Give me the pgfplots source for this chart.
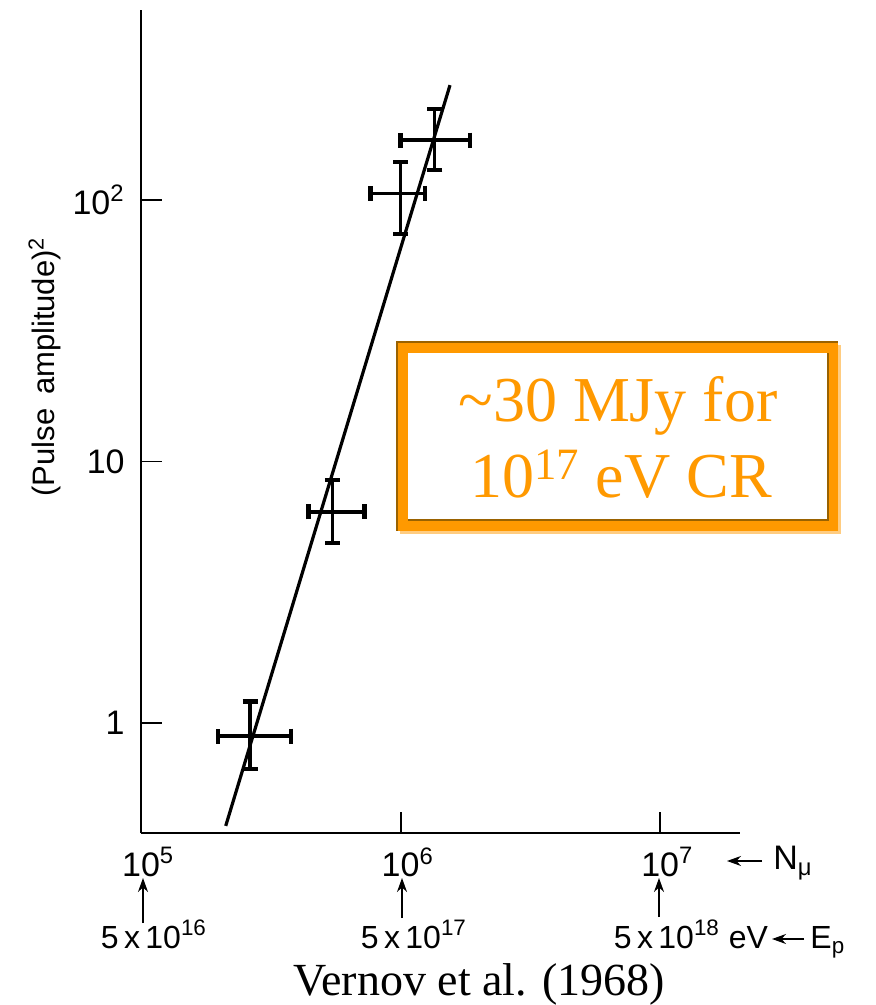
\documentclass[border=0pt]{standalone}
\usepackage{fontspec}
\setmainfont{Liberation Serif}
\setsansfont{Liberation Sans}
\usepackage{pgfplots}
\pgfplotsset{compat=1.18}
\usetikzlibrary{arrows.meta}
\definecolor{boxorange}{HTML}{FF9900}
\definecolor{boxbrown}{HTML}{9A6200}
\definecolor{boxshade}{HTML}{FFCC80}
\begin{document}
\begin{tikzpicture}
\begin{axis}[
  xmode=log, ymode=log,
  scale only axis, width=299.5pt, height=411.5pt,
  xmin=1e5, xmax=2.03e7, ymin=0.3795, ymax=533,
  axis x line=bottom, axis y line=left,
  axis line style={-, line width=1.1pt, black},
  xtick={1e5,1e6,1e7},
  xticklabels={10\rlap{\textsuperscript{5}},10\rlap{\textsuperscript{6}},10\rlap{\textsuperscript{7}}},
  ytick={1,10,100},
  yticklabels={1,10,10\textsuperscript{2}},
  xminorticks=false, yminorticks=false,
  tick align=inside, major tick length=10.5pt,
  tick style={line width=0.9pt, black},
  xticklabel style={anchor=north, inner sep=0pt, yshift=-7pt, font=\sffamily\fontsize{17}{19}\selectfont},
  yticklabel style={anchor=east, inner sep=0pt, xshift=-8pt, font=\sffamily\fontsize{17}{19}\selectfont},
  clip=false,
]
\coordinate (O) at (axis description cs:0,0);
% fitted line
\addplot[black, line width=1.6pt] coordinates {(2.12e5,0.404) (1.55e6,275)};
% data points with asymmetric error bars
\addplot[draw=none, mark=none,
  error bars/.cd, x dir=both, x explicit, y dir=both, y explicit,
  error bar style={draw=black, line width=1.7pt},
  error mark options={draw=black, rotate=90, line width=2.2pt, mark size=3.75pt}]
  coordinates {
  (2.63e5,0.89)  += (1.15e5,0.32)  -= (0.65e5,0.223)
  (5.46e5,6.41)  += (1.80e5,2.09)  -= (1.05e5,1.53)
  (1.00e6,106)   += (0.24e6,34)    -= (0.234e6,32)
  (1.354e6,169.5) += (0.496e6,53.5) -= (0.354e6,39.5)
  };
\end{axis}
\begin{scope}[x=0.5pt, y=-0.5pt, shift={(O)}, shift={(-141,-833)}]
  % y label
  \node[rotate=90, anchor=base west, inner sep=0pt, font=\sffamily\fontsize{15.5}{18}\selectfont] at (54,497) {(Pulse\, amplitude)\textsuperscript{2}};
  % N_mu
  \draw[-{Stealth[length=7pt,width=5pt]}, line width=0.8pt] (762,861) -- (727,861);
  \node[anchor=base west, inner sep=0pt, font=\sffamily\fontsize{17}{19}\selectfont] at (773,870) {N\textsubscript{μ}};
  % arrows up
  \draw[-{Stealth[length=7pt,width=5pt]}, line width=0.8pt] (143,923) -- (143,878);
  \draw[-{Stealth[length=7pt,width=5pt]}, line width=0.8pt] (402,918) -- (402,878);
  \draw[-{Stealth[length=7pt,width=5pt]}, line width=0.8pt] (659,917) -- (659,878);
  % E_p labels
  \node[anchor=base, inner sep=0pt, font=\sffamily\fontsize{16}{18}\selectfont] at (141,948) {5\,x\,10\rlap{\textsuperscript{16}}};
  \node[anchor=base, inner sep=0pt, font=\sffamily\fontsize{16}{18}\selectfont] at (401,948) {5\,x\,10\rlap{\textsuperscript{17}}};
  \node[anchor=base, inner sep=0pt, font=\sffamily\fontsize{16}{18}\selectfont] at (654,948) {5\,x\,10\rlap{\textsuperscript{18} eV}};
  \draw[-{Stealth[length=7pt,width=5pt]}, line width=0.8pt] (804,939) -- (772,939);
  \node[anchor=base west, inner sep=0pt, font=\sffamily\fontsize{16}{18}\selectfont] at (810,948) {E\textsubscript{p}};
  % caption
  \node[anchor=base west, inner sep=0pt, font=\fontsize{23}{26}\selectfont] at (293,995) {Vernov et al. (1968)};
  % orange box
  \fill[boxshade] (400,345) rectangle (841,534);
  \fill[boxorange] (397,342) rectangle (838,531);
  \fill[white] (408,353) rectangle (828,520);
  \draw[boxbrown, line width=0.7pt] (397,531) -- (397,342) -- (838,342);
  \draw[boxbrown, line width=0.7pt] (408,520) -- (828,520) -- (828,353);
  \node[anchor=base, inner sep=0pt, text=boxorange, font=\fontsize{32}{36}\selectfont] at (618,422) {\textasciitilde 30 MJy for};
  \node[anchor=base, inner sep=0pt, text=boxorange, font=\fontsize{32}{36}\selectfont] at (621,498) {10\textsuperscript{17} eV CR};
  % bounding box
  \pgfresetboundingbox
  \path[use as bounding box] (0,1005) rectangle (876,0);
\end{scope}
\end{tikzpicture}
\end{document}
